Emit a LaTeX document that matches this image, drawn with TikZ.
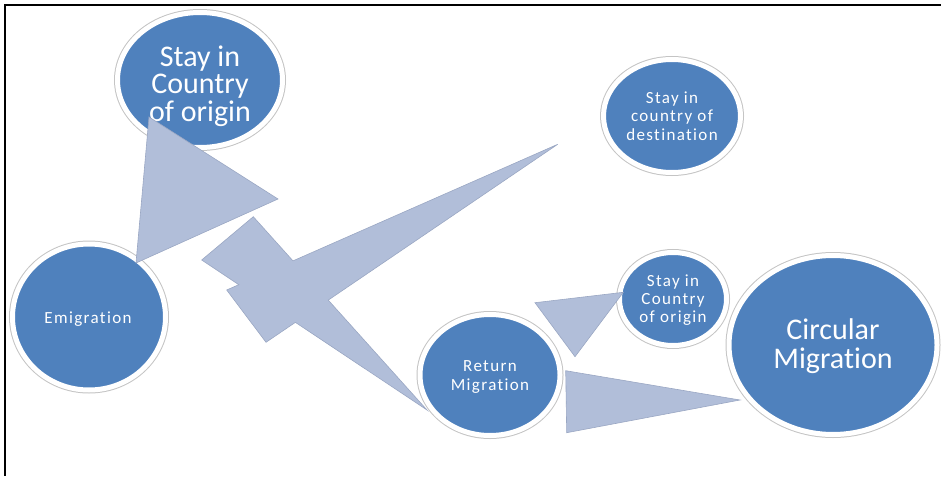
\documentclass[tikz,border=0pt]{standalone}
\usepackage{fontspec}
\setmainfont[Ligatures=NoCommon]{Carlito}
\newfontfamily\spacedfont[LetterSpace=8,Ligatures=NoCommon]{Carlito}
\usetikzlibrary{shapes.geometric}
\definecolor{bubbleblue}{HTML}{4F81BD}
\definecolor{ringgray}{HTML}{C4C4C4}
\definecolor{arrowfill}{HTML}{B1BED9}
\definecolor{arrowedge}{HTML}{9AA7C3}
\begin{document}
\begin{tikzpicture}[x=1pt,y=-1pt,
  bubble/.style={ellipse, inner sep=0pt, fill=bubbleblue, draw=white, line width=5pt,
    preaction={draw=ringgray, line width=7pt}},
  smalltxt/.style={text=white, align=center, inner sep=0pt,
    font=\spacedfont\fontsize{17}{18.3}\selectfont},
  bigtxt/.style={text=white, align=center, inner sep=0pt},
  wedge/.style={fill=arrowfill, draw=arrowedge, line width=0.6pt, line join=miter}]
\useasboundingbox (0,0) rectangle (941,476);
% frame
\coordinate (fTL) at (5,5);
\coordinate (fTR) at (941,5);
\coordinate (fBL) at (5,476);
\draw[line width=1.3pt] (fTR) -- (fTL) -- (fBL);

% bubbles
\node[bubble, minimum width=165pt, minimum height=135pt] (origin1) at (200,80) {};
\node[bubble, minimum width=137pt, minimum height=113pt] (dest) at (672,116) {};
\node[bubble, minimum width=153pt, minimum height=146pt] (emig) at (89,317) {};
\node[bubble, minimum width=140pt, minimum height=121pt] (ret) at (490,375) {};
\node[bubble, minimum width=107pt, minimum height=93pt] (origin2) at (673,299) {};
\node[bubble, minimum width=208pt, minimum height=179pt] (circ) at (833,345) {};

% texts
\node[bigtxt, font=\fontsize{30}{27.5}\selectfont] (torigin1) at (200,86) {Stay in\\Country\\of origin};
\node[smalltxt] (tdest) at (672,116) {Stay in\\country of\\destination};
\node[smalltxt] (temig) at (88,319.3) {Emigration};
\node[smalltxt] (tret) at (490,377) {Return\\Migration};
\node[smalltxt] (torigin2) at (673,300) {Stay in\\Country\\of origin};
\node[bigtxt, font=\fontsize{30}{29.3}\selectfont] (tcirc) at (833,346.5) {Circular\\Migration};

% wedge A : from top circle to emigration
\coordinate (A1) at (149,117);
\coordinate (A2) at (278,199);
\coordinate (A3) at (136,263);
\draw[wedge] (A1) -- (A2) -- (A3) -- cycle;

% crossed wedges B and C
\coordinate (Bc) at (557.7,144.3);
\coordinate (Bh) at (226.7,290);
\coordinate (Bg) at (266,342.3);
\coordinate (Ce) at (427,410);
\coordinate (Ca) at (253.3,216.7);
\coordinate (Cj) at (201.7,260);
\coordinate (Xb) at (intersection of Ca--Ce and Bc--Bh);
\coordinate (Xd) at (intersection of Ca--Ce and Bc--Bg);
\coordinate (Xf) at (intersection of Cj--Ce and Bc--Bg);
\coordinate (Xi) at (intersection of Cj--Ce and Bc--Bh);
\draw[wedge] (Ca) -- (Xb) -- (Bc) -- (Xd) -- (Ce) -- (Xf) -- (Bg) -- (Bh) -- (Xi) -- (Cj) -- cycle;

% wedge D : near small origin circle
\coordinate (D1) at (535,302.7);
\coordinate (D2) at (623.3,292.3);
\coordinate (D3) at (575,356.7);
\draw[wedge] (D1) -- (D2) -- (D3) -- cycle;

% wedge E : from return migration to circular migration
\coordinate (E1) at (565.7,370.7);
\coordinate (E2) at (740,400);
\coordinate (E3) at (566.7,432.7);
\draw[wedge] (E1) -- (E2) -- (E3) -- cycle;
\end{tikzpicture}
\end{document}
